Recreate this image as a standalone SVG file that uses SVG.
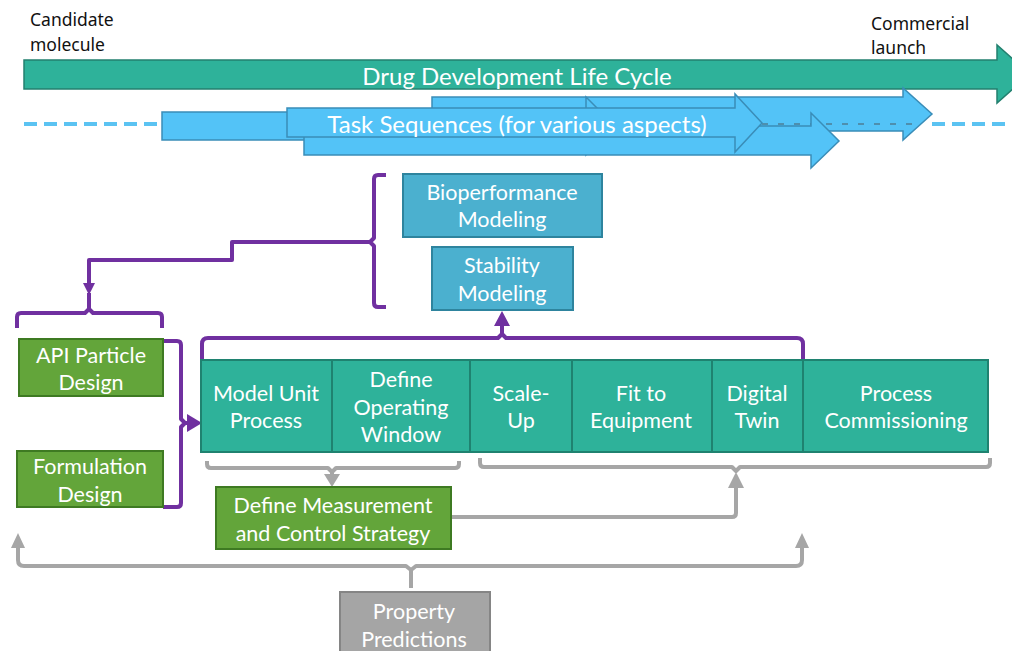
<svg xmlns="http://www.w3.org/2000/svg" width="1012" height="651" viewBox="0 0 1012 651">
<style>
.lbl{font-family:Lato,"Noto Sans","DejaVu Sans",sans-serif;font-size:21.5px;fill:#fff;text-anchor:middle;dominant-baseline:central}
.blk{font-family:"Noto Sans","DejaVu Sans",sans-serif;font-size:17.5px;fill:#111}
.big{font-family:Lato,"Noto Sans",sans-serif;font-size:24px;fill:#fff;text-anchor:middle;dominant-baseline:central}
.teal{fill:#2EB29A;stroke:#1F8270;stroke-width:2}
.green{fill:#63A53A;stroke:#3E7A22;stroke-width:2}
.blue{fill:#4BB0CF;stroke:#2E849E;stroke-width:2}
.gray{fill:#A5A5A5;stroke:#858585;stroke-width:2}
.task{fill:#53C3F7;stroke:#3A8DB8;stroke-width:1.5}
.pur{fill:none;stroke:#7030A0;stroke-width:4;stroke-linejoin:round}
.gry{fill:none;stroke:#A6A6A6;stroke-width:4;stroke-linejoin:round}
.pt{fill:#7030A0}
.gt{fill:#A6A6A6}
</style>

<g id="timeline">
  <text class="blk" x="30" y="26">Candidate</text>
  <text class="blk" x="30" y="51">molecule</text>
  <text class="blk" x="871" y="30">Commercial</text>
  <text class="blk" x="871" y="54">launch</text>
  <polygon points="24,60 997,60 997,45 1030,74 997,103 997,89 24,89" fill="#2EB29A" stroke="#23806F" stroke-width="1.5"/>
  <text class="big" x="517" y="75">Drug Development Life Cycle</text>
</g>

<g id="tasks">
  <line x1="24" y1="124" x2="162" y2="124" stroke="#5BC3F2" stroke-width="4" stroke-dasharray="13,7"/>
  <line x1="932" y1="124" x2="1012" y2="124" stroke="#5BC3F2" stroke-width="4" stroke-dasharray="13,7"/>
  <polygon class="task" points="432,97 903,97 903,88 932,114 903,140 903,131 432,131"/>
  <line x1="762" y1="124" x2="920" y2="124" stroke="#4E7F97" stroke-width="1.5" stroke-dasharray="6,10"/>
  <polygon class="task" points="162,112 586,112 586,97 615,126 586,155 586,140 162,140"/>
  <polygon class="task" points="304,126 811,126 811,113 839,141 811,168 811,155 304,155"/>
  <polygon class="task" points="287,108 735,108 735,94 762,123 735,152 735,137 287,137"/>
  <text class="big" x="517" y="123">Task Sequences (for various aspects)</text>
</g>

<g id="connectors">
  <path class="pur" d="M386,175 L378,175 Q374,175 374,179 L374,238 L370,242 L374,246 L374,303 Q374,307 378,307 L386,307"/>
  <path class="pur" d="M370,242 L232,242 L232,260 L89,260 L89,286"/>
  <polygon class="pt" points="83,283 95,283 89,295"/>
  <path class="pur" d="M89,293 L89,309 M17,328 L17,317 Q17,313 21,313 L85,313 L89,309 L93,313 L158,313 Q162,313 162,317 L162,328"/>
  <path class="pur" d="M163,341 L177,341 Q181,341 181,345 L181,419 L185,423 L181,427 L181,503 Q181,507 177,507 L163,507"/>
  <path class="pur" d="M185,423 L190,423"/>
  <polygon class="pt" points="187,414 187,432 202,423"/>
  <path class="pur" d="M202,360 L202,344 Q202,338 208,338 L498,338 L502,334 L506,338 L797,338 Q803,338 803,344 L803,360"/>
  <path class="pur" d="M502,334 L502,322"/>
  <polygon class="pt" points="494,326 510,326 502,311"/>
  <path class="gry" d="M207,461 L207,464 Q207,468 211,468 L328,468 L332,472 L336,468 L455,468 Q459,468 459,464 L459,461"/>
  <path class="gry" d="M332,472 L332,478"/>
  <polygon class="gt" points="324,474 340,474 332,487"/>
  <path class="gry" d="M480,458 L480,463 Q480,467 484,467 L732,467 L736,471 L740,467 L986,467 Q990,467 990,463 L990,458"/>
  <path class="gry" d="M451,517 L732,517 Q736,517 736,513 L736,484"/>
  <polygon class="gt" points="728,488 744,488 736,472"/>
  <path class="gry" d="M18,545 L18,560 Q18,566 24,566 L406,566 L411,570 L416,566 L796,566 Q802,566 802,560 L802,545"/>
  <path class="gry" d="M411,570 L411,588"/>
  <polygon class="gt" points="11,548 25,548 18,533"/>
  <polygon class="gt" points="795,548 809,548 802,533"/>
</g>

<g id="bioperformance">
  <rect class="blue" x="403" y="174" width="199" height="63"/>
  <text class="lbl" x="502" y="192">Bioperformance</text>
  <text class="lbl" x="502" y="219">Modeling</text>
</g>
<g id="stability">
  <rect class="blue" x="432" y="247" width="141" height="63"/>
  <text class="lbl" x="502" y="265">Stability</text>
  <text class="lbl" x="502" y="293">Modeling</text>
</g>

<g id="api">
  <rect class="green" x="19" y="339" width="144" height="57"/>
  <text class="lbl" x="91" y="355">API Particle</text>
  <text class="lbl" x="91" y="382">Design</text>
</g>
<g id="formulation">
  <rect class="green" x="17" y="451" width="146" height="56"/>
  <text class="lbl" x="90" y="466">Formulation</text>
  <text class="lbl" x="90" y="494">Design</text>
</g>

<g id="model-unit">
  <rect class="teal" x="201" y="360" width="131" height="92"/>
  <text class="lbl" x="266" y="393">Model Unit</text>
  <text class="lbl" x="266" y="420">Process</text>
</g>
<g id="operating-window">
  <rect class="teal" x="332" y="360" width="138" height="92"/>
  <text class="lbl" x="401" y="379">Define</text>
  <text class="lbl" x="401" y="407">Operating</text>
  <text class="lbl" x="401" y="434">Window</text>
</g>
<g id="scale-up">
  <rect class="teal" x="470" y="360" width="102" height="92"/>
  <text class="lbl" x="521" y="393">Scale-</text>
  <text class="lbl" x="521" y="420">Up</text>
</g>
<g id="fit-equipment">
  <rect class="teal" x="572" y="360" width="140" height="92"/>
  <text class="lbl" x="641" y="393">Fit to</text>
  <text class="lbl" x="641" y="420">Equipment</text>
</g>
<g id="digital-twin">
  <rect class="teal" x="712" y="360" width="91" height="92"/>
  <text class="lbl" x="757" y="393">Digital</text>
  <text class="lbl" x="757" y="420">Twin</text>
</g>
<g id="commissioning">
  <rect class="teal" x="803" y="360" width="185" height="92"/>
  <text class="lbl" x="896" y="393">Process</text>
  <text class="lbl" x="896" y="420">Commissioning</text>
</g>

<g id="measurement">
  <rect class="green" x="216" y="487" width="235" height="62"/>
  <text class="lbl" x="333" y="505">Define Measurement</text>
  <text class="lbl" x="333" y="533">and Control Strategy</text>
</g>

<g id="property">
  <rect class="gray" x="340" y="592" width="150" height="70"/>
  <text class="lbl" x="414" y="611">Property</text>
  <text class="lbl" x="414" y="639">Predictions</text>
</g>
</svg>
